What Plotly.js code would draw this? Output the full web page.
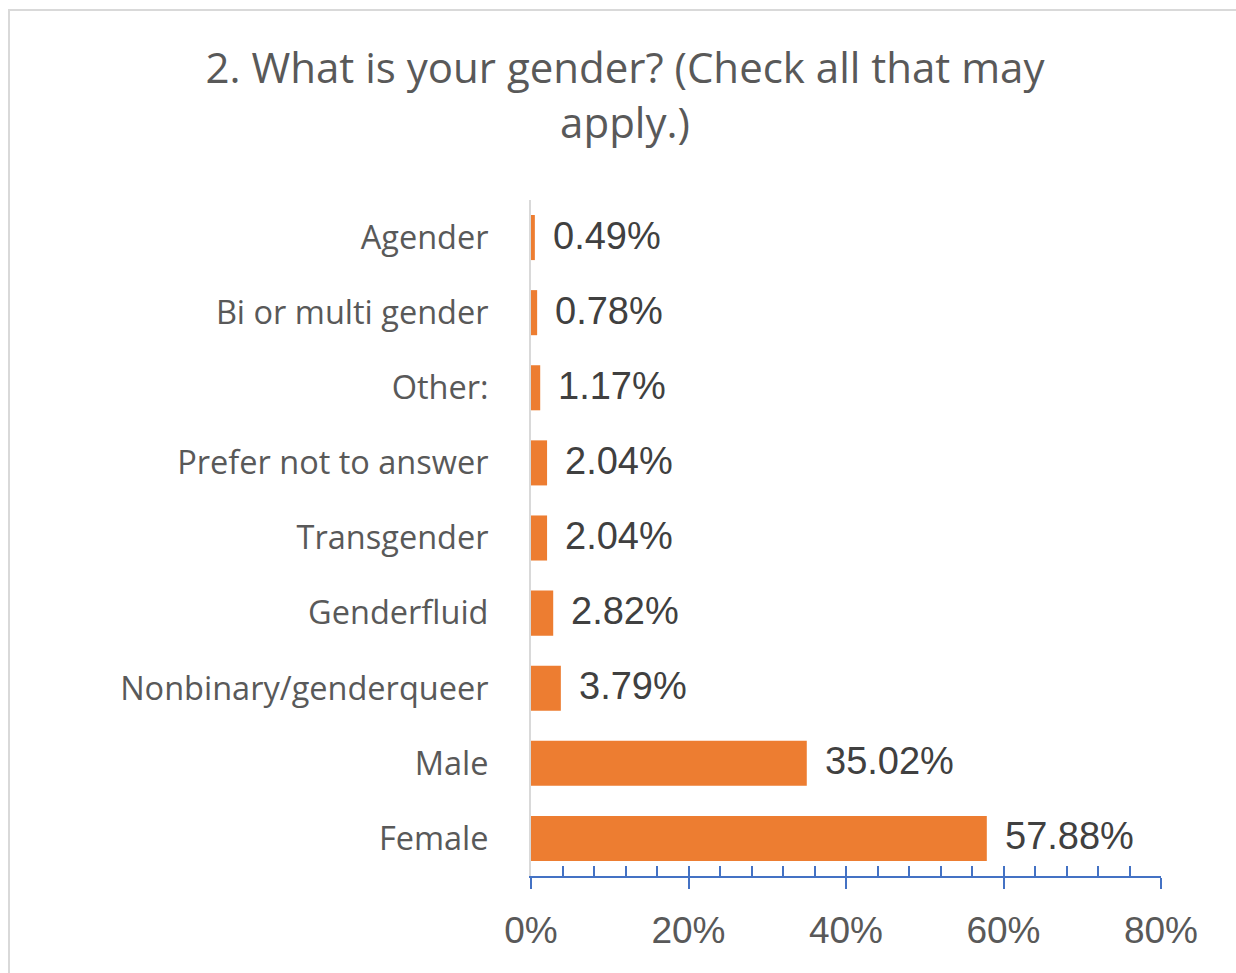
<!DOCTYPE html>
<html><head><meta charset="utf-8">
<script src="https://cdn.plot.ly/plotly-3.0.1.min.js"></script>
<style>
html,body{margin:0;padding:0;background:#fff;}
#wrap{position:relative;width:1236px;height:973px;}
#chart{position:absolute;left:0;top:0;width:1236px;height:973px;}
#frame{position:absolute;left:8px;top:9px;width:1240px;height:980px;border-left:2px solid #d9d9d9;border-top:2px solid #d9d9d9;pointer-events:none;}
</style>
</head><body>
<div id="wrap"><div id="chart"></div><div id="frame"></div></div>
<script>
const categories = ["Female","Male","Nonbinary/genderqueer","Genderfluid","Transgender","Prefer not to answer","Other:","Bi or multi gender","Agender"];
const percentages = [57.88,35.02,3.79,2.82,2.04,2.04,1.17,0.78,0.49];
const tickValues = [0,20,40,60,80];
const tickLabels = ["0%","20%","40%","60%","80%"];
const titleText = "2. What is your gender? (Check all that may<br>apply.)";

const trace = {
  type: 'bar', orientation: 'h',
  x: percentages, y: categories,
  marker: {color: '#ED7D31'},
  hoverinfo: 'none'
};
const dummy = {type:'scatter', x:[0], y:[categories[0]], xaxis:'x2', mode:'markers', marker:{opacity:0}, hoverinfo:'none', showlegend:false};

const annotations = percentages.map((v,i)=>({
  x: v, y: categories[i], xref:'x', yref:'y',
  text: v.toFixed(2)+'%', showarrow:false, xanchor:'left', xshift:16, yshift:2,
  font:{family:'Liberation Sans, Arial, sans-serif', size:38, color:'#404040'}
}));

const layout = {
  width:1236, height:973,
  margin:{l:531, r:75, t:200, b:97},
  paper_bgcolor:'rgba(0,0,0,0)', plot_bgcolor:'rgba(0,0,0,0)',
  showlegend:false, bargap:0.4,
  title:{text:titleText, xref:'container', x:625/1236, xanchor:'center', yref:'container', y:1-83/973, yanchor:'middle',
    font:{family:'Open Sans, sans-serif', size:42, color:'#595959', lineposition:'none'}},
  xaxis:{range:[0,80], tickvals:tickValues, ticktext:tickLabels, showgrid:false, zeroline:false,
    showline:true, linecolor:'#4472C4', linewidth:2, ticks:'outside', ticklen:11, tickwidth:2, tickcolor:'#4472C4',
    ticklabelstandoff:10,
    tickfont:{family:'Liberation Sans, Arial, sans-serif', size:37, color:'#595959'}, fixedrange:true},
  xaxis2:{range:[0,80], overlaying:'x', side:'bottom', dtick:4, tick0:0, ticks:'inside', ticklen:10, tickwidth:2, tickcolor:'#4472C4',
    showticklabels:false, showgrid:false, zeroline:false, showline:false, fixedrange:true},
  yaxis:{showgrid:false, zeroline:false, showline:true, linecolor:'#d9d9d9', linewidth:2, ticks:'',
    ticklabelstandoff:34,
    tickfont:{family:'Open Sans, sans-serif', size:32.5, color:'#595959'}, fixedrange:true},
  annotations: annotations
};
Plotly.newPlot('chart',[trace,dummy],layout,{staticPlot:true, displayModeBar:false});
</script>
</body></html>
